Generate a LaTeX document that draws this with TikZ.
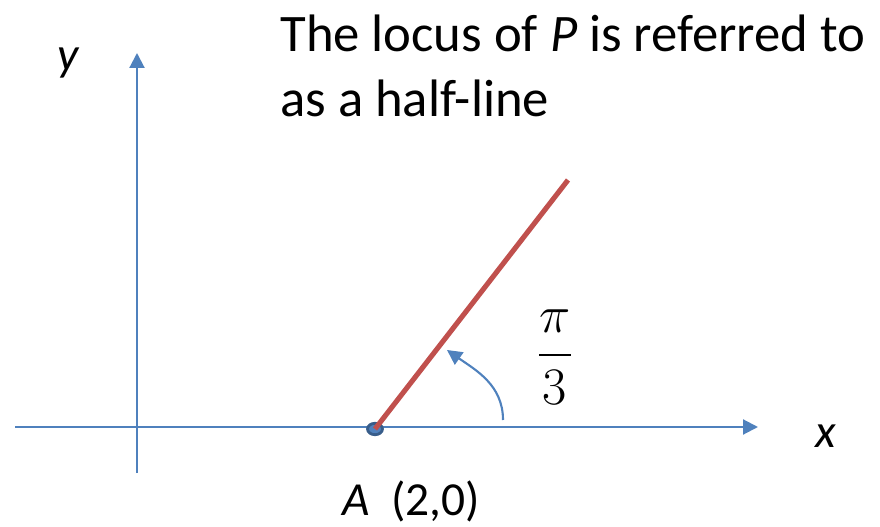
\RequirePackage{fix-cm}
\documentclass[tikz,border=0pt]{standalone}
\usepackage{amsmath}
\usepackage{fontspec}
\setmainfont{Carlito}
\usepackage{tikz}
\usetikzlibrary{arrows.meta, positioning, shapes.geometric}
\definecolor{axisblue}{HTML}{4F81BD}
\definecolor{dotblue}{HTML}{385D8A}
\definecolor{lineRed}{HTML}{C0504D}

\begin{document}
\begin{tikzpicture}[x=0.02cm,y=-0.02cm]
 \tikzstyle{axis}=[draw=axisblue,line width=1.2pt,
   -{Triangle[length=8.5pt,width=8.5pt]}]
 \tikzstyle{lbl}=[inner sep=0pt,font=\fontsize{27}{32}\selectfont\itshape]
 \useasboundingbox (0,0) rectangle (880,527);
 \coordinate (xl) at (15,427);
 \coordinate (xr) at (758,427);
 \coordinate (yb) at (137,473);
 \coordinate (yt) at (137,53);
 \draw[axis] (xl) -- (xr);
 \draw[axis] (yb) -- (yt);
 \node (xlab) [lbl] at (826,436) {x};
 \node (ylab) [lbl] at (68,63) {y};
 % half-line from A
 \coordinate (far) at (568,180);
 \node (A) [ellipse,fill=axisblue,draw=dotblue,line width=1.6pt,
   minimum width=8.5pt,minimum height=6.5pt,inner sep=0pt] at (375,429) {};
 \draw[lineRed,line width=2.9pt] (A.center) -- (far);
 \node (Alab) [inner sep=0pt,font=\fontsize{27}{32}\selectfont]
   at (411,501) {\textit{A}\ \ (2,0)};
 % angle arrow
 \coordinate (arcS) at (503,420);
 \coordinate (arcE) at (447,350);
 \draw[axisblue,line width=1.2pt,-{Triangle[length=8.5pt,width=8.5pt]}]
   (arcS) to[out=90,in=-35] (arcE);
 \node (ang) [inner sep=0pt,font=\fontsize{30}{34}\selectfont]
   at (555,357) {$\dfrac{\pi}{3}$};
 \node (title) [anchor=north west,align=left,inner sep=0pt,
   font=\fontsize{30}{37}\selectfont] at (280,15)
   {The locus of \textit{P} is referred to\\as a half-line};
\end{tikzpicture}
\end{document}
